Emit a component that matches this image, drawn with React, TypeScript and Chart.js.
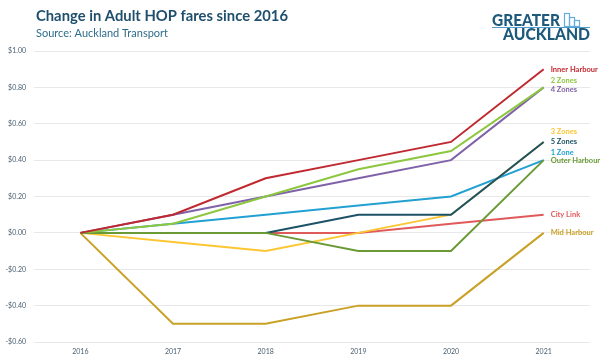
import React, { useEffect, useRef } from "react";
import { Chart, registerables } from "chart.js";

Chart.register(...registerables);

const years = ["2016", "2017", "2018", "2019", "2020", "2021"];

const seriesNames = [
  "Inner Harbour",
  "2 Zones",
  "4 Zones",
  "Outer Harbour",
  "5 Zones",
  "3 Zones",
  "1 Zone",
  "City Link",
  "Mid Harbour",
];

const innerHarbour = [0, 0.1, 0.3, 0.4, 0.5, 0.9];
const twoZones = [0, 0.05, 0.2, 0.35, 0.45, 0.8];
const fourZones = [0, 0.1, 0.2, 0.3, 0.4, 0.8];
const outerHarbour = [0, 0, 0, -0.1, -0.1, 0.4];
const fiveZones = [0, 0, 0, 0.1, 0.1, 0.5];
const threeZones = [0, -0.05, -0.1, 0, 0.1, 0.5];
const oneZone = [0, 0.05, 0.1, 0.15, 0.2, 0.4];
const cityLink = [0, 0, 0, 0, 0.05, 0.1];
const midHarbour = [0, -0.5, -0.5, -0.4, -0.4, 0];

const seriesValues = [
  innerHarbour,
  twoZones,
  fourZones,
  outerHarbour,
  fiveZones,
  threeZones,
  oneZone,
  cityLink,
  midHarbour,
];

const seriesColors = [
  "#c0282f",
  "#8dc63f",
  "#7f62a8",
  "#6a9a36",
  "#1c5267",
  "#fcc633",
  "#23a0d2",
  "#e05a5c",
  "#c9a126",
];

// label anchor (in $ units) for the end-of-line labels
const labelAnchors = [0.9, 0.835, 0.79, 0.4, 0.5, 0.555, 0.44, 0.1, 0.0];

const yTickMin = -0.6;
const yTickMax = 1.0;
const yTickStep = 0.2;

const title = "Change in Adult HOP fares since 2016";
const subtitle = "Source: Auckland Transport";

const headerPlugin = {
  id: "header",
  afterDraw(chart: any) {
    const ctx = chart.ctx as CanvasRenderingContext2D;
    ctx.save();
    ctx.textAlign = "left";
    ctx.textBaseline = "alphabetic";
    ctx.fillStyle = "#1f4f6d";
    ctx.font = "bold 16px Lato";
    ctx.fillText(title, 36, 21, 252);
    ctx.fillStyle = "#2f6c8e";
    ctx.font = "11px Lato";
    ctx.fillText(subtitle, 36, 37, 139);

    // logo
    ctx.fillStyle = "#1d5a7b";
    ctx.font = "900 16px Lato";
    ctx.fillText("GREATER", 492, 25.5, 68);
    ctx.fillText("AUCKLAND", 503, 39.5, 87);
    ctx.strokeStyle = "#4f9ccc";
    ctx.lineWidth = 1;
    ctx.beginPath();
    ctx.moveTo(492, 27.5);
    ctx.lineTo(590, 27.5);
    ctx.stroke();
    ctx.strokeStyle = "#62aede";
    ctx.lineWidth = 1.2;
    ctx.strokeRect(564.5, 13.5, 5, 13);
    ctx.strokeRect(569.5, 17.5, 5, 9);
    ctx.strokeRect(574.5, 20.5, 5, 6);
    ctx.restore();
  },
};

const endLabelPlugin = {
  id: "endLabels",
  afterDatasetsDraw(chart: any) {
    const ctx = chart.ctx as CanvasRenderingContext2D;
    const xScale = chart.scales.x;
    const yScale = chart.scales.y;
    ctx.save();
    ctx.font = "bold 7.5px Lato";
    ctx.textAlign = "left";
    ctx.textBaseline = "middle";
    seriesNames.forEach((name, i) => {
      const x = xScale.getPixelForValue(years.length - 1) + 7;
      const y = yScale.getPixelForValue(labelAnchors[i]);
      ctx.fillStyle = seriesColors[i];
      ctx.fillText(name, x, y);
    });
    ctx.restore();
  },
};

function formatDollar(v: number) {
  const r = Math.round(v * 100) / 100;
  if (Math.abs(r) < 1e-9) return "$0.00";
  return (r < 0 ? "-$" : "$") + Math.abs(r).toFixed(2);
}

export default function App() {
  const ref = useRef<HTMLCanvasElement | null>(null);
  useEffect(() => {
    if (!ref.current) return;
    const chart = new Chart(ref.current, {
      type: "line",
      data: {
        labels: years,
        datasets: seriesNames.map((name, i) => ({
          label: name,
          data: seriesValues[i],
          borderColor: seriesColors[i],
          backgroundColor: seriesColors[i],
          borderWidth: 2,
          pointRadius: 0,
          tension: 0,
          fill: false,
        })),
      },
      options: {
        responsive: false,
        animation: false,
        layout: { padding: { top: 51, left: 0, right: 10, bottom: 0 } },
        plugins: {
          legend: { display: false },
          tooltip: { enabled: false },
          title: { display: false },
        },
        scales: {
          x: {
            offset: true,
            grid: { display: false, drawTicks: false },
            border: { display: false },
            ticks: {
              padding: 6,
              color: "#4a6072",
              font: { family: "Lato", size: 7 },
              maxRotation: 0,
            },
            afterFit(scale: any) {
              scale.height = 20;
            },
          },
          y: {
            min: yTickMin,
            max: yTickMax,
            grid: { color: "#e8e8e8", lineWidth: 1, drawTicks: false },
            border: { display: false },
            ticks: {
              stepSize: yTickStep,
              padding: 8,
              color: "#4a6072",
              font: { family: "Lato", size: 7 },
              callback: (v: any) => formatDollar(Number(v)),
            },
            afterFit(scale: any) {
              scale.width = 34;
            },
          },
        },
      },
      plugins: [headerPlugin, endLabelPlugin],
    });
    return () => chart.destroy();
  }, []);
  return (
    <div style={{ position: "absolute", left: 0, top: 0, width: 600, height: 362, background: "#ffffff" }}>
      <canvas ref={ref} width={600} height={362} style={{ width: 600, height: 362, display: "block" }} />
    </div>
  );
}
